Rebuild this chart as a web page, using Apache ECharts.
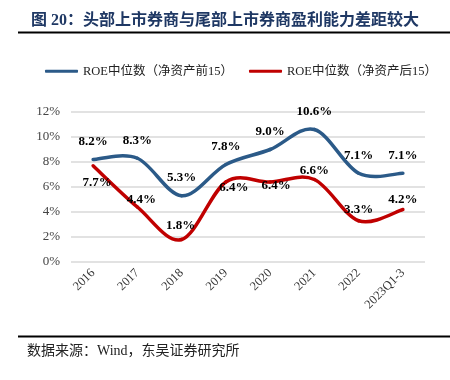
<!DOCTYPE html>
<html><head><meta charset="utf-8">
<script src="https://cdn.jsdelivr.net/npm/echarts@6/dist/echarts.min.js"></script>
<style>html,body{margin:0;padding:0;background:#fff}#c{width:450px;height:380px}</style>
</head><body><div id="c"></div>
<script>
var categories = ['2016','2017','2018','2019','2020','2021','2022','2023Q1-3'];
var seriesNames = ['ROE中位数（净资产前15）','ROE中位数（净资产后15）'];
var top15 = [8.2, 8.3, 5.3, 7.8, 9.0, 10.6, 7.1, 7.1];
var bottom15 = [7.7, 4.4, 1.8, 6.4, 6.4, 6.6, 3.3, 4.2];
var yTicks = [0, 2, 4, 6, 8, 10, 12];

var serif = '"Times New Roman","Liberation Serif","Noto Sans CJK SC",serif';
var redOffsets = [[4, 17], [4, -7], [-1, -14], [8, 6], [6, 4], [0, -9], [0, -11], [0, -10]];
var BLUE = '#2B5A88', RED = '#C00000';

// Excel-style smoothed curve (Catmull-Rom -> Bezier), drawn through ECharts coordinate system
function curveSeries(name, arr, color) {
  return {
    name: name, type: 'custom', z: 2, silent: true,
    data: arr.map(function(v, i){ return [i, v]; }),
    renderItem: function(params, api) {
      var i = params.dataIndex, n = arr.length;
      if (i >= n - 1) return null;
      function P(j) { j = Math.max(0, Math.min(n - 1, j)); return api.coord([j, arr[j]]); }
      var p0 = P(i - 1), p1 = P(i), p2 = P(i + 1), p3 = P(i + 2);
      var t = 1 / 6;
      return {
        type: 'bezierCurve',
        shape: {
          x1: p1[0], y1: p1[1], x2: p2[0], y2: p2[1],
          cpx1: p1[0] + (p2[0] - p0[0]) * t, cpy1: p1[1] + (p2[1] - p0[1]) * t,
          cpx2: p2[0] - (p3[0] - p1[0]) * t, cpy2: p2[1] - (p3[1] - p1[1]) * t
        },
        style: {stroke: color, lineWidth: 3.5, fill: null, lineCap: 'round'}
      };
    }
  };
}

function labelSeries(name, arr, color, offsets) {
  return {
    name: name, type: 'line', z: 3, symbol: 'circle', symbolSize: 0, showSymbol: true,
    lineStyle: {color: color, width: 0, opacity: 0}, itemStyle: {color: color},
    data: arr.map(function(v, i){ return {value: v, label: {offset: offsets[i]}}; }),
    label: {show: true, position: 'inside', formatter: function(p){return Number(p.value).toFixed(1) + '%';},
      fontFamily: serif, fontWeight: 'bold', fontSize: 13, color: '#000'}
  };
}

var blueOffsets = top15.map(function(){ return [0, -18]; });

var chart = echarts.init(document.getElementById('c'));
chart.setOption({
  animation: false,
  title: {
    text: '图 20：头部上市券商与尾部上市券商盈利能力差距较大',
    left: 26, top: 8,
    textStyle: {fontFamily: serif, fontSize: 16, fontWeight: 'bold', color: '#1F3864'}
  },
  graphic: [
    {type: 'line', shape: {x1: 18, y1: 32.5, x2: 450, y2: 32.5}, style: {stroke: '#000', lineWidth: 2}},
    {type: 'line', shape: {x1: 18, y1: 336.5, x2: 450, y2: 336.5}, style: {stroke: '#000', lineWidth: 2}},
    {type: 'text', left: 27, top: 344, style: {text: '数据来源：Wind，东吴证券研究所', font: '14px ' + serif, fill: '#222'}}
  ],
  legend: {
    top: 60, left: 40, itemGap: 16,
    itemWidth: 33, itemHeight: 3,
    textStyle: {fontFamily: serif, fontSize: 12.5, color: '#222'},
    data: [
      {name: seriesNames[0], icon: 'roundRect', itemStyle: {color: BLUE}},
      {name: seriesNames[1], icon: 'roundRect', itemStyle: {color: RED}}
    ]
  },
  grid: {left: 71, right: 25, top: 112, bottom: 118},
  xAxis: {
    type: 'category', data: categories, boundaryGap: true,
    axisLine: {show: false}, axisTick: {show: false},
    axisLabel: {rotate: 45, fontFamily: serif, fontSize: 12.5, color: '#333', margin: 9, interval: 0}
  },
  yAxis: {
    type: 'value', min: yTicks[0], max: yTicks[yTicks.length - 1], interval: 2,
    axisLine: {show: false}, axisTick: {show: false},
    axisLabel: {formatter: '{value}%', fontFamily: serif, fontSize: 13, color: '#444', margin: 11},
    splitLine: {lineStyle: {color: '#D9D9D9', width: 1.5}}
  },
  series: [
    curveSeries(seriesNames[0], top15, BLUE),
    curveSeries(seriesNames[1], bottom15, RED),
    labelSeries(seriesNames[0], top15, BLUE, blueOffsets),
    labelSeries(seriesNames[1], bottom15, RED, redOffsets)
  ]
});
</script>
</body></html>
